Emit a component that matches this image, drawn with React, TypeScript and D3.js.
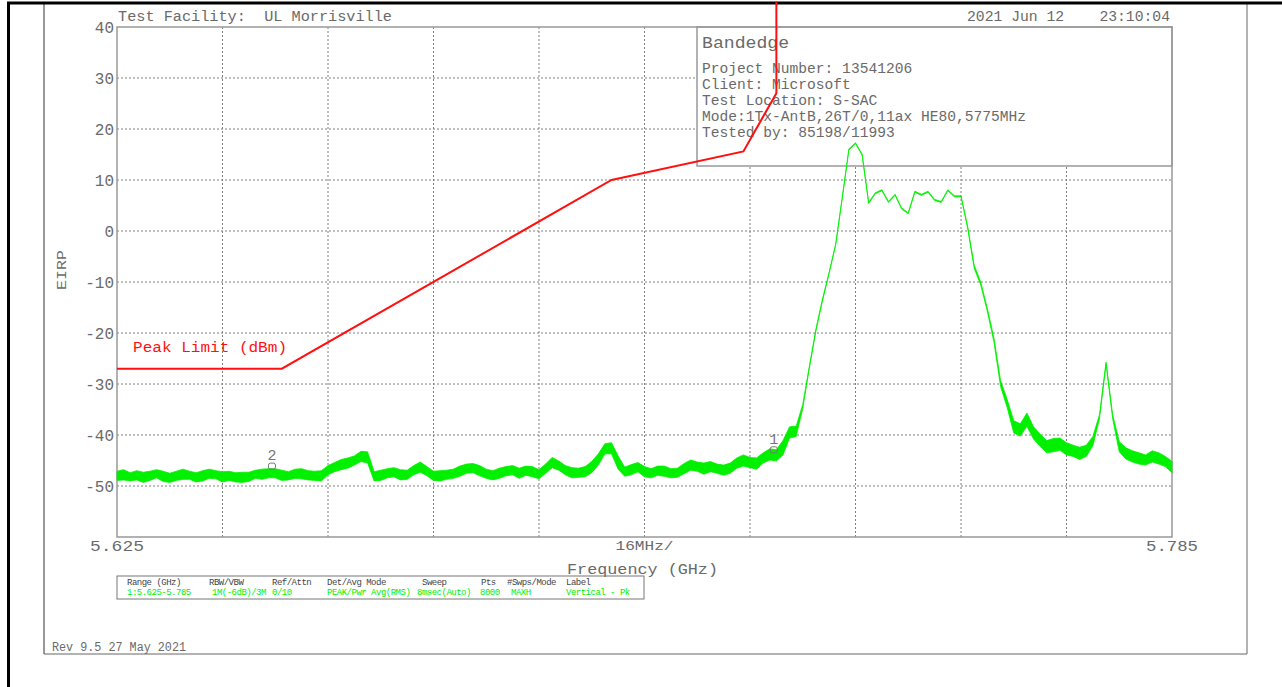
import * as d3 from 'd3'

// sweep setup
const freqStartGHz = 5.625
const freqStopGHz = 5.785
const traceStepGHz = 0.001

const yTicks = [40, 30, 20, 10, 0, -10, -20, -30, -40, -50]
const xDivisions = 10

// FCC peak limit (dBm)
const limitFreqGHz = [5.625, 5.65, 5.7, 5.72, 5.725, 5.725]
const limitDbm = [-27, -27, 10, 15.6, 27, 45]

// measured trace, one reading per MHz (centre of the noisy band)
const traceDbm = [
	-48.0, -47.8, -48.2, -47.9, -48.3, -48.0, -47.6, -48.1, -48.4, -48.0,
	-47.7, -47.9, -48.3, -48.0, -47.6, -47.8, -48.2, -48.0, -48.3, -48.3,
	-48.2, -47.7, -47.7, -47.5, -47.5, -47.9, -48.0, -47.6, -47.6, -47.9,
	-48.0, -48.0, -46.9, -46.3, -45.8, -45.5, -45.0, -44.2, -44.4, -48.1,
	-47.9, -47.5, -47.3, -47.8, -47.8, -46.9, -46.3, -47.1, -48.0, -48.0,
	-47.8, -47.6, -47.1, -46.6, -46.5, -47.0, -47.6, -47.9, -47.5, -47.1,
	-46.9, -47.5, -47.0, -47.2, -47.7, -46.6, -45.4, -46.0, -46.9, -47.4,
	-47.4, -47.2, -46.3, -44.8, -42.7, -42.6, -45.4, -47.2, -46.8, -46.3,
	-47.2, -47.5, -47.0, -47.1, -47.5, -47.4, -46.6, -45.9, -46.2, -46.6,
	-46.2, -46.6, -46.9, -46.5, -45.5, -45.0, -45.4, -45.6, -44.5, -43.8,
	-44.0, -42.5, -39.5, -39.3, -34.4, -26.7, -19.4, -13.5, -8.2, -2.6,
	6.6, 16.0, 17.2, 15.0, 5.5, 7.4, 8.0, 5.7, 7.1, 4.4,
	3.5, 7.7, 7.1, 7.7, 6.1, 5.7, 8.0, 6.8, 6.8, 0.8,
	-7.0, -10.3, -15.5, -21.4, -29.9, -33.8, -38.4, -39.0, -37.0, -39.6,
	-41.0, -42.3, -42.0, -41.8, -42.7, -43.1, -43.6, -43.1, -41.2, -36.4,
	-25.9, -36.4, -42.3, -43.6, -44.2, -44.6, -44.9, -44.2, -44.6, -45.2,
	-46.3,
]

// half height of the noisy band at each reading (dB)
const traceSpreadDb = [
	0.9, 1.0, 0.8, 0.9, 1.0, 0.9, 0.8, 1.0, 0.9, 0.9,
	1.0, 0.8, 0.9, 1.0, 0.9, 0.8, 1.0, 0.9, 0.9, 1.0,
	0.9, 0.8, 1.0, 0.9, 0.9, 1.0, 0.8, 0.9, 1.0, 0.9,
	0.9, 1.0, 0.9, 0.9, 1.0, 1.0, 0.9, 1.0, 1.1, 0.9,
	1.0, 0.9, 0.9, 1.0, 0.9, 0.9, 1.0, 0.9, 0.9, 1.0,
	0.9, 0.9, 1.0, 0.9, 0.9, 1.0, 0.9, 0.9, 1.0, 0.9,
	0.9, 1.0, 0.9, 1.0, 0.9, 0.9, 1.0, 0.9, 0.9, 1.0,
	0.9, 1.0, 1.1, 1.1, 1.0, 1.1, 1.3, 0.9, 1.0, 0.9,
	1.0, 0.9, 0.9, 1.0, 0.9, 0.9, 1.0, 1.0, 0.9, 1.1,
	1.0, 0.9, 1.0, 1.0, 1.0, 1.1, 1.0, 1.1, 1.0, 1.1,
	1.1, 1.4, 1.1, 1.0, 0.4, 0.2, 0.2, 0.2, 0.1, 0.1,
	0.1, 0.1, 0.1, 0.1, 0.1, 0.1, 0.1, 0.1, 0.1, 0.1,
	0.1, 0.1, 0.1, 0.1, 0.1, 0.1, 0.1, 0.1, 0.1, 0.2,
	0.3, 0.3, 0.3, 0.4, 0.6, 0.8, 1.2, 1.2, 1.3, 1.2,
	1.2, 1.2, 1.3, 1.2, 1.2, 1.1, 1.2, 1.1, 0.9, 0.4,
	0.2, 0.4, 1.0, 1.1, 1.1, 1.1, 1.0, 1.1, 1.1, 1.0,
	1.1,
]

const markerFreqGHz = [5.7246, 5.6485]
const markerDbm = [-42.9, -46.1]
const markerLabels = ['1', '2']

const titleText = 'Test Facility:  UL Morrisville'
const dateText = '2021 Jun 12    23:10:04'
const infoTitle = 'Bandedge'
const infoLines = [
	'Project Number: 13541206',
	'Client: Microsoft',
	'Test Location: S-SAC',
	'Mode:1Tx-AntB,26T/0,11ax HE80,5775MHz',
	'Tested by: 85198/11993',
]
const tableHeaders = ['Range (GHz)', 'RBW/VBW', 'Ref/Attn', 'Det/Avg Mode', 'Sweep', 'Pts', '#Swps/Mode', 'Label']
const tableValues = ['1:5.625-5.785', '1M(-6dB)/3M', '0/10', 'PEAK/Pwr Avg(RMS)', '8msec(Auto)', '8000', 'MAXH', 'Vertical - Pk']
const tableHeaderX = [127, 209, 272, 327, 422, 481, 507, 566]
const tableValueX = [127, 212, 272, 327, 417, 480, 511, 566]

const W = 1282
const H = 687
const plot = { left: 117, right: 1172, top: 27, bottom: 537 }
const FONT = '"Liberation Mono", "DejaVu Sans Mono", monospace'
const TEXT = '#6a6a6a'
const GREEN = '#00f000'
const RED = '#ff1010'

export default function App() {
	const x = d3.scaleLinear().domain([freqStartGHz, freqStopGHz]).range([plot.left, plot.right])
	const y = d3.scaleLinear().domain([-60, 40]).range([plot.bottom, plot.top])

	const traceFreq = traceDbm.map((_, i) => freqStartGHz + i * traceStepGHz)
	const band = d3
		.area<number>()
		.x((i) => x(traceFreq[i]))
		.y0((i) => y(traceDbm[i] - traceSpreadDb[i]))
		.y1((i) => y(traceDbm[i] + traceSpreadDb[i]))
	const bandPath = band(d3.range(traceDbm.length)) ?? ''

	const limitLine = d3
		.line<number>()
		.x((i) => x(limitFreqGHz[i]))
		.y((i) => y(limitDbm[i]))
	const limitPath = limitLine(d3.range(limitDbm.length)) ?? ''

	// 10 equal divisions of the span (16 MHz each)
	const divGHz = (freqStopGHz - freqStartGHz) / xDivisions
	const xGrid = d3.range(1, xDivisions).map((k) => freqStartGHz + k * divGHz)
	const yGrid = y.ticks(10).filter((t) => t > -60 && t < 40)

	const box = { x: 697, y: plot.top, w: plot.right - 697, h: 139 }
	const pre = { whiteSpace: 'pre' as const }

	return (
		<svg
			width={W}
			height={H}
			style={{ position: 'absolute', left: 0, top: 0, background: '#fff' }}
			fontFamily={FONT}
		>
			{/* page frame */}
			<line x1={44} x2={44} y1={3} y2={654} stroke='#333' strokeWidth={1} />
			<line x1={1247} x2={1247} y1={3} y2={654} stroke='#666' strokeWidth={1} />
			<line x1={44} x2={1247} y1={654} y2={654} stroke='#666' strokeWidth={1} />
			<line x1={7} x2={W} y1={3} y2={3} stroke='#000' strokeWidth={3} />
			<line x1={8.5} x2={8.5} y1={2} y2={H} stroke='#000' strokeWidth={3} />

			{/* header texts */}
			<text x={118} y={21} fontSize={14} fill={TEXT} style={pre} textLength={274} lengthAdjust='spacingAndGlyphs'>
				{titleText}
			</text>
			<text x={967} y={21} fontSize={14} fill={TEXT} style={pre} textLength={203} lengthAdjust='spacingAndGlyphs'>
				{dateText}
			</text>

			{/* grid */}
			{yGrid.map((t) => (
				<line key={'h' + t} x1={plot.left} x2={plot.right} y1={y(t)} y2={y(t)} stroke='#808080' strokeDasharray='2,2' />
			))}
			{xGrid.map((t) => (
				<line key={'v' + t} x1={x(t)} x2={x(t)} y1={plot.top} y2={plot.bottom} stroke='#808080' strokeDasharray='2,2' />
			))}

			{/* y labels */}
			{yTicks.map((t) => (
				<text key={'yl' + t} x={114} y={y(t)} dy='0.35em' textAnchor='end' fontSize={16} fill={TEXT}>
					{t}
				</text>
			))}
			<text
				transform={`translate(66,270) rotate(-90)`}
				textAnchor='middle'
				fontSize={13}
				fill={TEXT}
				textLength={40}
				lengthAdjust='spacingAndGlyphs'
			>
				EIRP
			</text>

			{/* x labels */}
			<text x={x(freqStartGHz)} y={551} textAnchor='middle' fontSize={15} fill={TEXT} textLength={54} lengthAdjust='spacingAndGlyphs'>
				{freqStartGHz.toFixed(3)}
			</text>
			<text x={x(freqStopGHz)} y={551} textAnchor='middle' fontSize={15} fill={TEXT} textLength={52} lengthAdjust='spacingAndGlyphs'>
				{freqStopGHz.toFixed(3)}
			</text>
			<text
				x={(plot.left + plot.right) / 2}
				y={550}
				textAnchor='middle'
				fontSize={13}
				fill={TEXT}
				textLength={58}
				lengthAdjust='spacingAndGlyphs'
			>
				16MHz/
			</text>
			<text x={567} y={574} fontSize={15} fill={TEXT} textLength={151} lengthAdjust='spacingAndGlyphs'>
				Frequency (GHz)
			</text>

			{/* info box */}
			<rect x={box.x} y={box.y} width={box.w} height={box.h} fill='#fff' stroke='#999' strokeWidth={1.5} />
			<text x={702} y={48} fontSize={16} fill={TEXT} textLength={87} lengthAdjust='spacingAndGlyphs'>
				{infoTitle}
			</text>
			{infoLines.map((s, i) => (
				<text key={s} x={702} y={73 + i * 16} fontSize={14.6} fill={TEXT}>
					{s}
				</text>
			))}

			{/* plot frame */}
			<rect
				x={plot.left}
				y={plot.top}
				width={plot.right - plot.left}
				height={plot.bottom - plot.top}
				fill='none'
				stroke='#999'
				strokeWidth={1.5}
			/>

			{/* trace */}
			<path d={bandPath} fill={GREEN} stroke={GREEN} strokeWidth={0.8} strokeLinejoin='round' />

			{/* limit */}
			<path d={limitPath} fill='none' stroke={RED} strokeWidth={2} />
			<text x={133} y={352} fontSize={14} fill={RED} textLength={154} lengthAdjust='spacingAndGlyphs'>
				Peak Limit (dBm)
			</text>

			{/* markers */}
			{markerLabels.map((m, i) => {
				const mx = x(markerFreqGHz[i])
				const my = y(markerDbm[i])
				return (
					<g key={m}>
						<rect x={mx - 3.5} y={my - 3} width={7} height={6} rx={2} fill='none' stroke='#777' strokeWidth={1} />
						<text x={mx} y={my - 6} textAnchor='middle' fontSize={15} fill='#777'>
							{m}
						</text>
					</g>
				)
			})}

			{/* settings table */}
			<rect x={117} y={576} width={527} height={23} fill='none' stroke='#777' strokeWidth={1} />
			{tableHeaders.map((s, i) => (
				<text key={'th' + i} x={tableHeaderX[i]} y={585} fontSize={9} letterSpacing={-0.5} fill='#444'>
					{s}
				</text>
			))}
			{tableValues.map((s, i) => (
				<text key={'tv' + i} x={tableValueX[i]} y={595} fontSize={9} letterSpacing={-0.5} fill={GREEN}>
					{s}
				</text>
			))}

			<text x={52} y={651} fontSize={12} fill={TEXT} textLength={134} lengthAdjust='spacingAndGlyphs'>
				Rev 9.5 27 May 2021
			</text>
		</svg>
	)
}
